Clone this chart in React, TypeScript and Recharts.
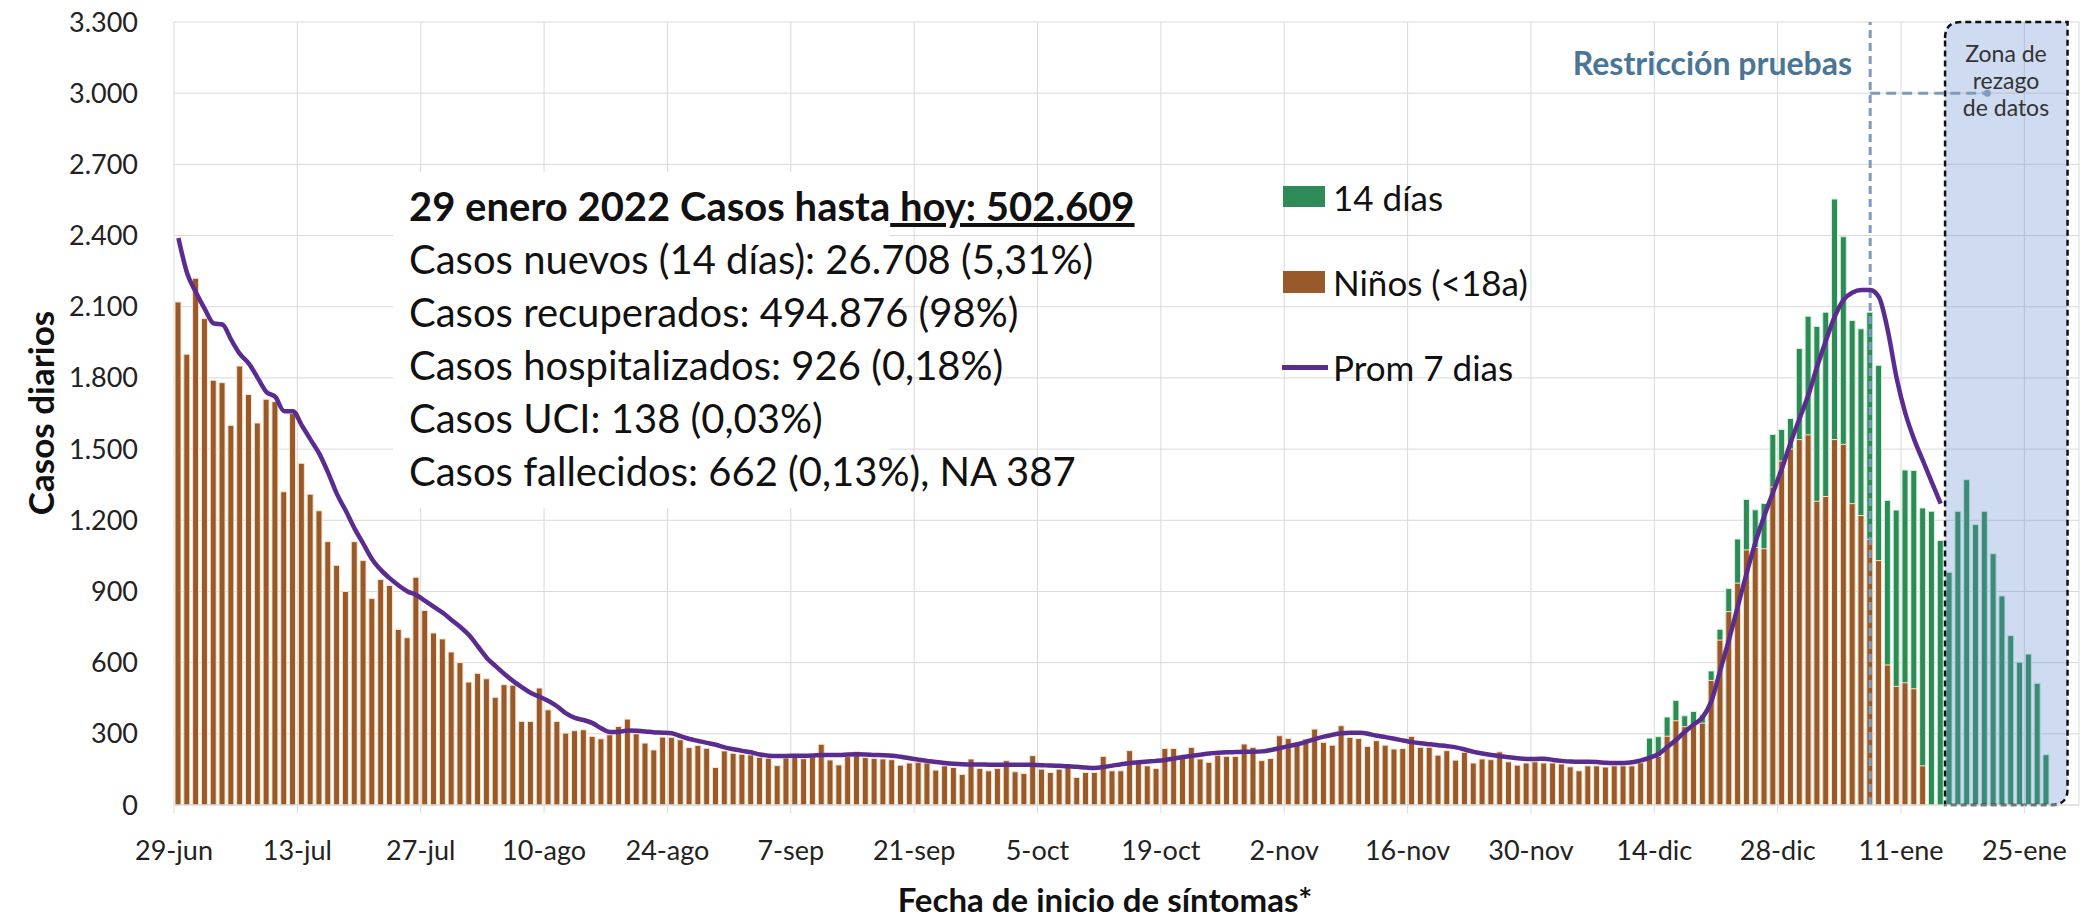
import React from 'react'
import {
  ComposedChart,
  Bar,
  Line,
  XAxis,
  YAxis,
  CartesianGrid,
  ReferenceLine,
  ReferenceArea,
  ReferenceDot,
} from 'recharts'

const FONT = 'Lato, "Open Sans", sans-serif'

// día 0 = 29-jun-2021, una etiqueta cada 14 días
const tickLabels = [
  '29-jun', '13-jul', '27-jul', '10-ago', '24-ago', '7-sep', '21-sep', '5-oct',
  '19-oct', '2-nov', '16-nov', '30-nov', '14-dic', '28-dic', '11-ene', '25-ene',
]

// casos diarios (barras marrón), días 0..198
const ninos = [
  2120, 1900, 2220, 2050, 1790, 1780, 1600, 1850, 1730, 1610, 1710, 1700, 1320, 1650, 1440, 1310, 1240, 1110,
  1010, 900, 1110, 1030, 870, 950, 925, 740, 705, 960, 820, 725, 700, 645, 600, 518, 555, 532,
  454, 507, 505, 352, 352, 493, 401, 352, 303, 313, 317, 289, 279, 296, 331, 362, 300, 261, 232, 286, 285, 275,
  242, 251, 239, 158, 228, 218, 214, 211, 201, 197, 166, 198, 200, 195, 203, 256, 190, 169, 204, 225, 200, 196,
  194, 191, 168, 177, 180, 177, 147, 165, 158, 129, 194, 154, 144, 154, 187, 140, 133, 208, 151, 137, 151, 158,
  116, 137, 137, 205, 144, 144, 229, 180, 165, 154, 238, 238, 201, 243, 194, 180, 210, 205, 205, 257, 243, 187,
  196, 292,
  280, 261, 278, 320, 264, 252, 334, 285, 280, 247, 271, 252, 236, 238, 289, 243, 243, 210, 229, 189, 222, 177,
  194, 191, 224, 182, 168, 177, 182, 177, 177, 173, 161, 144, 165, 165, 160, 165, 165, 165, 178,
  200, 205, 290, 355, 330, 340, 345, 525, 695, 815, 935, 1075, 1085, 1080, 1340, 1450, 1500, 1540, 1560, 1280,
  1300, 1540, 1520, 1270, 1220, 1120, 1030, 590, 500, 515, 490, 165,
]

// últimos días (barras verdes), desde el día 167 hasta el 212
const dias14Inicio = 167
const dias14 = [
  282, 288, 371, 441, 376, 394, 380, 565, 741, 912, 1121, 1288, 1244, 1271, 1562, 1583, 1629, 1924, 2060, 2017,
  2077, 2554, 2395, 2042, 2007, 2077, 1853, 1284, 1243, 1412, 1410, 1252, 1238, 1115, 981, 1238, 1371, 1182,
  1238, 1059, 881, 714, 602, 636, 513, 212,
]

// promedio 7 días, días 0..200
const prom7 = [
  2390, 2240, 2160, 2090, 2030, 2025, 1960, 1900, 1860, 1800, 1740, 1720, 1660, 1660, 1600, 1540, 1480, 1400,
  1310, 1240, 1165, 1100, 1035, 990, 955, 925, 900, 885, 860, 835, 810, 780, 750, 715, 668, 620,
  585, 552, 522, 496, 472, 456, 438, 415, 386, 367, 358, 345, 323, 308, 309, 314, 313, 310, 306, 305, 302, 290,
  278, 270, 262, 254, 243, 235, 228, 222, 213, 208, 207, 207, 208, 208, 209, 211, 211, 211, 213, 214, 213, 211,
  210, 208, 203, 197, 191, 186, 181, 177, 174, 172, 171, 171, 170, 170, 170, 170, 170, 169, 168, 166, 165, 163,
  161, 158, 156, 160, 166, 172, 177, 180, 183, 186, 190, 196, 202, 207, 212, 217, 220, 222, 223, 224, 224,
  226, 232, 240, 248, 256, 266, 278, 288, 296, 302, 305, 304, 300, 292, 286, 279, 272, 265, 260, 256, 252, 248,
  243, 234, 224, 217, 211, 206, 201, 197, 194, 194, 195, 190, 186, 183, 182, 182, 181, 178, 177, 177, 180, 188,
  200, 215, 245, 275, 310, 340, 370, 440, 570, 700, 840, 980, 1110, 1220, 1320, 1420, 1530, 1630, 1730, 1850,
  1960, 2060, 2130, 2160, 2170, 2170, 2140, 2000, 1800, 1650, 1540, 1450, 1360, 1270,
]

const yTicks = [0, 300, 600, 900, 1200, 1500, 1800, 2100, 2400, 2700, 3000, 3300]
const ultimoDia = 212
const restriccionDia = 192
const restriccionFin = 205.3
const rezagoDesde = 200.5
const rezagoHasta = 214.4
const xDomain: [number, number] = [-0.5, 215.7]

const data = Array.from({ length: ultimoDia + 1 }, (_, i) => ({
  i,
  ninos: i < ninos.length ? ninos[i] : null,
  dias14: i >= dias14Inicio ? dias14[i - dias14Inicio] : null,
  prom7: i < prom7.length ? prom7[i] : null,
}))

const xTicks = tickLabels.map((_, k) => k * 14 - 0.5)
const fmtX = (v: number) => tickLabels[Math.round((v + 0.5) / 14)] ?? ''
const fmtY = (v: number) =>
  v >= 1000 ? `${Math.floor(v / 1000)}.${String(v % 1000).padStart(3, '0')}` : String(v)

function ZonaShape(props: any) {
  const { x, y, width, height } = props
  if (x == null || width == null) return null
  const r = 16
  const d = `M${x},${y + r} Q${x},${y} ${x + r},${y} L${x + width},${y} L${x + width},${y + height - r} Q${x + width},${y + height} ${x + width - r},${y + height} L${x},${y + height} Z`
  return <path d={d} fill="#5f88cc" fillOpacity={0.3} stroke="#111" strokeWidth={2.5} strokeDasharray="6 4" />
}

const abs = (s: React.CSSProperties): React.CSSProperties => ({ position: 'absolute', ...s })

export default function App() {
  const tick = { fontFamily: FONT, fontSize: 27, fill: '#222' }
  const textLines = [
    'Casos nuevos (14 días): 26.708 (5,31%)',
    'Casos recuperados: 494.876 (98%)',
    'Casos hospitalizados: 926 (0,18%)',
    'Casos UCI: 138 (0,03%)',
    'Casos fallecidos: 662 (0,13%), NA 387',
  ]
  const legendText: React.CSSProperties = { fontSize: 35, lineHeight: '40px', color: '#111', whiteSpace: 'nowrap' }
  return (
    <div style={abs({ left: 0, top: 0, width: 2087, height: 920, background: '#fff', overflow: 'hidden', fontFamily: FONT })}>
      <ComposedChart width={2087} height={920} data={data} margin={{ top: 22, right: 8, bottom: 55, left: 0 }}>
        <CartesianGrid stroke="#d9d9d9" xAxisId={0} />
        <XAxis
          xAxisId={0}
          type="number"
          dataKey="i"
          domain={xDomain}
          ticks={xTicks}
          interval={0}
          tickFormatter={fmtX}
          tick={tick}
          height={60}
          tickSize={8}
          tickMargin={28}
          stroke="#d9d9d9"
        />
        <XAxis xAxisId={1} type="number" dataKey="i" domain={xDomain} hide />
        <YAxis
          domain={[0, 3300]}
          ticks={yTicks}
          interval={0}
          tickFormatter={fmtY}
          tick={tick}
          width={174}
          axisLine={false}
          tickLine={false}
          tickSize={0}
          tickMargin={36}
        />
        <Bar xAxisId={1} dataKey="dias14" fill="#2e8b57" stroke="#d2f5da" strokeWidth={1} barSize={6} isAnimationActive={false} />
        <Bar xAxisId={0} dataKey="ninos" fill="#995a2b" stroke="#fbe3cc" strokeWidth={1} barSize={6} isAnimationActive={false} />
        <ReferenceArea
          xAxisId={0}
          x1={rezagoDesde}
          x2={rezagoHasta}
          y1={0}
          y2={3300}
          shape={ZonaShape}
          zIndex={350}
        />
        <ReferenceLine xAxisId={0} x={restriccionDia} stroke="#7d9cbd" strokeWidth={3} strokeDasharray="8 5" />
        <ReferenceLine
          xAxisId={0}
          segment={[{ x: restriccionDia, y: 3000 }, { x: restriccionFin, y: 3000 }]}
          stroke="#7d9cbd"
          strokeWidth={3}
          strokeDasharray="10 6"
        />
        <ReferenceDot xAxisId={0} x={restriccionFin} y={3000} r={3.5} fill="#7d9cbd" stroke="none" />
        <Line
          xAxisId={0}
          dataKey="prom7"
          type="monotone"
          stroke="#5b2c8f"
          strokeWidth={4.5}
          dot={false}
          isAnimationActive={false}
        />
      </ComposedChart>

      {/* cuadro de texto */}
      <div style={abs({ left: 393, top: 172, width: 497, height: 336, background: '#fff' })} />
      <div style={abs({ left: 409, top: 180, fontSize: 40, lineHeight: '53px', color: '#111', whiteSpace: 'nowrap' })}>
        <div style={{ fontWeight: 700 }}>
          29 enero 2022 Casos hasta<span style={{ textDecoration: 'underline' }}> hoy: 502.609</span>
        </div>
        {textLines.map((t) => (
          <div key={t}>{t}</div>
        ))}
      </div>

      {/* leyenda */}
      <div style={abs({ left: 1283, top: 186, width: 42, height: 21, background: '#2e8b57' })} />
      <div style={abs({ left: 1283, top: 271, width: 42, height: 22, background: '#995a2b' })} />
      <div style={abs({ left: 1282, top: 365, width: 46, height: 5, background: '#5b2c8f' })} />
      <div style={abs({ left: 1333, top: 177, ...legendText })}>14 días</div>
      <div style={abs({ left: 1333, top: 262, ...legendText })}>Niños (&lt;18a)</div>
      <div style={abs({ left: 1333, top: 347, ...legendText })}>Prom 7 dias</div>

      {/* anotaciones */}
      <div style={abs({ left: 0, width: 1852, top: 44, textAlign: 'right', fontSize: 32, lineHeight: '38px', fontWeight: 700, color: '#4a7597' })}>
        Restricción pruebas
      </div>
      <div style={abs({ left: 1946, width: 120, top: 40, textAlign: 'center', fontSize: 23, lineHeight: '27px', color: '#333' })}>
        Zona de<br />rezago<br />de datos
      </div>

      {/* títulos de ejes */}
      <div style={abs({ left: 40, top: 413, transform: 'translate(-50%, -50%) rotate(-90deg)', fontSize: 35, lineHeight: '40px', fontWeight: 700, color: '#111', whiteSpace: 'nowrap' })}>
        Casos diarios
      </div>
      <div style={abs({ left: 1105, top: 899, transform: 'translate(-50%, -50%)', fontSize: 33, lineHeight: '34px', fontWeight: 700, color: '#111', whiteSpace: 'nowrap' })}>
        Fecha de inicio de síntomas*
      </div>
    </div>
  )
}
